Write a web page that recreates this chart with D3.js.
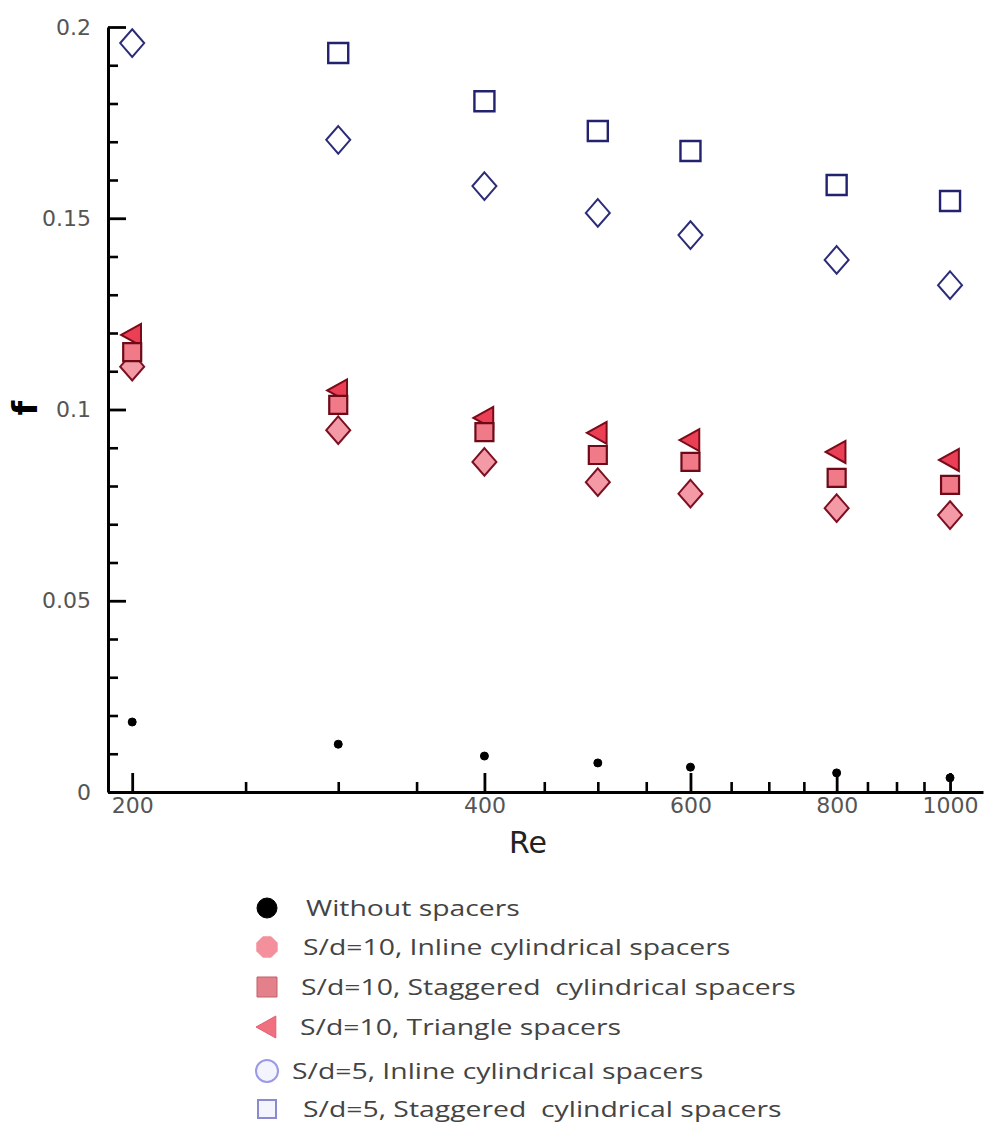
<!DOCTYPE html>
<html>
<head>
<meta charset="utf-8">
<script src="https://cdn.jsdelivr.net/npm/d3@7"></script>
<style>
  html, body { margin: 0; padding: 0; background: #fff; }
  svg { display: block; }
</style>
</head>
<body>
<svg id="chart" width="986" height="1132"></svg>
<script>
// Reynolds numbers of the runs
const reValues = [200, 300, 400, 500, 600, 800, 1000];

// friction factor per configuration
const withoutSpacers = [0.0183, 0.0125, 0.0094, 0.0076, 0.0065, 0.0050, 0.0037];
const inline10       = [0.1112, 0.0946, 0.0863, 0.0810, 0.0780, 0.0742, 0.0724];
const staggered10    = [0.1150, 0.1012, 0.0941, 0.0881, 0.0863, 0.0821, 0.0803];
const triangle10     = [0.1195, 0.1050, 0.0978, 0.0939, 0.0920, 0.0889, 0.0868];
const inline5        = [0.1958, 0.1705, 0.1584, 0.1514, 0.1456, 0.1391, 0.1325];
const staggered5     = [null,   0.1932, 0.1806, 0.1728, 0.1676, 0.1587, 0.1545];

// axis ticks
const xMajorTicks = [200, 400, 600, 800, 1000];
const xMinorTicks = [250, 300, 350, 450, 500, 550, 650, 700, 750, 850, 900, 950];
const yMajorTicks = [0, 0.05, 0.1, 0.15, 0.2];
const yMinorTicks = [0.01, 0.02, 0.03, 0.04, 0.06, 0.07, 0.08, 0.09, 0.11, 0.12, 0.13, 0.14, 0.16, 0.17, 0.18, 0.19];

const legendLabels = [
  "Without spacers",
  "S/d=10, Inline cylindrical spacers",
  "S/d=10, Staggered  cylindrical spacers",
  "S/d=10, Triangle spacers",
  "S/d=5, Inline cylindrical spacers",
  "S/d=5, Staggered  cylindrical spacers"
];

const series = [
  { values: withoutSpacers, shape: "dot",      size: 4,  fill: "#000",    stroke: "#000",    sw: 1 },
  { values: inline10,       shape: "diamond",  size: 12, fill: "#f49aa6", stroke: "#7c1020", sw: 2 },
  { values: triangle10,     shape: "triangle", size: 11, fill: "#ea3f55", stroke: "#7a0a18", sw: 2 },
  { values: staggered10,    shape: "square",   size: 9,  fill: "#f07a88", stroke: "#6e0a18", sw: 2.2 },
  { values: inline5,        shape: "diamond",  size: 12, fill: "none",    stroke: "#2c2c78", sw: 2 },
  { values: staggered5,     shape: "square",   size: 10, fill: "none",    stroke: "#22226e", sw: 2.4 }
];

const legendMarks = [
  { shape: "dot",      size: 10, fill: "#000",    stroke: "#000",    sw: 1 },
  { shape: "octagon",  size: 11, fill: "#f3909c", stroke: "#f3909c", sw: 1 },
  { shape: "square",   size: 10, fill: "#e4808a", stroke: "#c06068", sw: 1 },
  { shape: "triangle", size: 11, fill: "#f07080", stroke: "#e06070", sw: 1 },
  { shape: "circle",   size: 11, fill: "#f4f4ff", stroke: "#9a9ae6", sw: 2 },
  { shape: "square",   size: 9,  fill: "#f4f4ff", stroke: "#8a8ad0", sw: 2 }
];

// marker outlines centred on 0,0
function markerPath(shape, s) {
  const p = d3.path();
  if (shape === "dot" || shape === "circle") {
    p.arc(0, 0, s, 0, 2 * Math.PI);
  } else if (shape === "square") {
    p.rect(-s, -s, 2 * s, 2 * s);
  } else if (shape === "diamond") {
    p.moveTo(0, -s * 1.15); p.lineTo(s, 0); p.lineTo(0, s * 1.15); p.lineTo(-s, 0); p.closePath();
  } else if (shape === "triangle") {
    p.moveTo(-s, 0); p.lineTo(s * 0.8, -s); p.lineTo(s * 0.8, s); p.closePath();
  } else if (shape === "octagon") {
    for (let i = 0; i < 8; i++) {
      const a = Math.PI / 8 + i * Math.PI / 4;
      if (i === 0) p.moveTo(s * Math.cos(a), s * Math.sin(a));
      else p.lineTo(s * Math.cos(a), s * Math.sin(a));
    }
    p.closePath();
  }
  return p.toString();
}

const svg = d3.select("#chart");
svg.append("rect").attr("width", 986).attr("height", 1132).attr("fill", "#fff");

const x = d3.scaleLog().domain([190.7, 1067]).range([108, 983]);
const y = d3.scaleLinear().domain([0, 0.2]).range([792, 27]);

const tickFont = "'DejaVu Sans', sans-serif";

// minor ticks
svg.append("g").attr("transform", "translate(0,792)")
  .call(d3.axisBottom(x).tickValues(xMinorTicks).tickSizeInner(-10).tickSizeOuter(0).tickFormat(""))
  .call(g => g.select(".domain").remove())
  .call(g => g.selectAll("line").attr("stroke", "#000").attr("stroke-width", 2.6));
svg.append("g").attr("transform", "translate(108,0)")
  .call(d3.axisLeft(y).tickValues(yMinorTicks).tickSizeInner(-10).tickSizeOuter(0).tickFormat(""))
  .call(g => g.select(".domain").remove())
  .call(g => g.selectAll("line").attr("stroke", "#000").attr("stroke-width", 2.6));

// major x axis
svg.append("g").attr("transform", "translate(0,792)")
  .call(d3.axisBottom(x).tickValues(xMajorTicks).tickSizeInner(-19).tickSizeOuter(0)
    .tickPadding(5).tickFormat(d => String(d)))
  .call(g => g.select(".domain").attr("stroke", "#000").attr("stroke-width", 3))
  .call(g => g.selectAll("line").attr("stroke", "#000").attr("stroke-width", 2.8))
  .call(g => g.selectAll("text").attr("fill", "#555").attr("font-size", 22).attr("font-family", tickFont));

// major y axis
svg.append("g").attr("transform", "translate(108,0)")
  .call(d3.axisLeft(y).tickValues(yMajorTicks).tickSizeInner(-18).tickSizeOuter(0)
    .tickPadding(17).tickFormat(d => d === 0 ? "0" : String(d)))
  .call(g => g.select(".domain").attr("stroke", "#000").attr("stroke-width", 3))
  .call(g => g.selectAll("line").attr("stroke", "#000").attr("stroke-width", 2.8))
  .call(g => g.selectAll("text").attr("fill", "#555").attr("font-size", 22).attr("font-family", tickFont));

// axis titles
svg.append("text").attr("x", 528).attr("y", 853).attr("text-anchor", "middle")
  .attr("font-family", tickFont).attr("font-size", 30).attr("fill", "#222").text("Re");
svg.append("text").attr("transform", "translate(37,408) rotate(-90)").attr("text-anchor", "middle")
  .attr("font-family", tickFont).attr("font-weight", "bold").attr("font-size", 34).attr("fill", "#000").text("f");

// data markers
series.forEach(s => {
  svg.append("g").selectAll("path")
    .data(reValues.map((re, i) => ({ re, v: s.values[i] })).filter(d => d.v != null))
    .join("path")
    .attr("transform", d => `translate(${x(d.re)},${y(d.v)})`)
    .attr("d", markerPath(s.shape, s.size))
    .attr("fill", s.fill).attr("stroke", s.stroke).attr("stroke-width", s.sw);
});

// legend
const legend = svg.append("g");
const rowY = [908, 947, 987, 1027, 1071, 1109];
const rowX = [306, 303, 301, 300, 292, 303];
legendLabels.forEach((label, i) => {
  const m = legendMarks[i];
  legend.append("path")
    .attr("transform", `translate(267,${rowY[i]})`)
    .attr("d", markerPath(m.shape, m.size))
    .attr("fill", m.fill).attr("stroke", m.stroke).attr("stroke-width", m.sw);
  legend.append("text")
    .attr("transform", `translate(${rowX[i]},${rowY[i]}) scale(1.35,1)`)
    .attr("dominant-baseline", "central")
    .attr("font-family", "'Open Sans', sans-serif").attr("font-size", 21)
    .attr("fill", "#444").style("white-space", "pre")
    .text(label);
});
</script>
</body>
</html>
